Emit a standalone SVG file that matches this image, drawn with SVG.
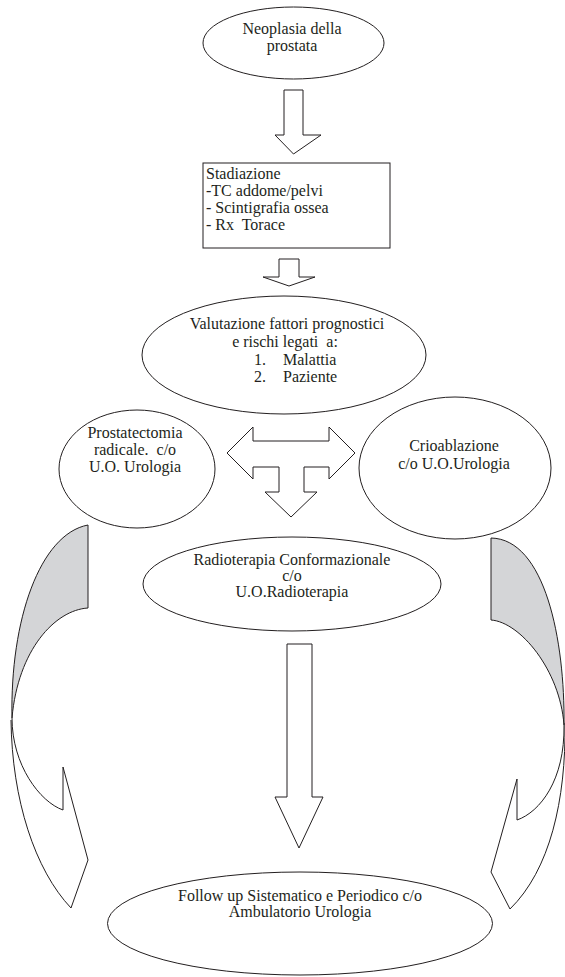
<svg xmlns="http://www.w3.org/2000/svg" width="565" height="977" viewBox="0 0 565 977">
<style>
.n{fill:#fff;stroke:#231f20;stroke-width:1}
.t{font-family:"Liberation Serif","Times New Roman",serif;font-size:16px;fill:#231f20}
.m{text-anchor:middle}
.a{fill:#fff;stroke:#231f20;stroke-width:1;stroke-linejoin:miter}
.g{fill:#d4d5d7;stroke:#231f20;stroke-width:1}
.l{fill:none;stroke:#231f20;stroke-width:1}
</style>
<rect width="565" height="977" fill="#fff"/>
<g id="connectors">
<polygon class="a" points="284,90 303,90 303,135 321,135 293.5,154 275,135 284,135"/>
<polygon class="a" points="279,259 299,259 299,277 315,277 289,286 263,277 279,277"/>
<polygon class="a" points="227,453 253,427 253,441 329,441 329,427 355,453 329,479 329,467 304,467 304,492 317,492 291,517 265,492 279,492 279,467 253,467 253,479"/>
<polygon class="a" points="287,644 312,644 312,797 323,797 299,848 275,797 287,797"/>
<g id="curve-left">
<path class="g" d="M88,525 L88,608 C55,610 18,650 12,718 C10,620 40,534 88,525 Z"/>
<path class="l" d="M12,718 C12,765 40,802 63,810 L63,767 L88,860 L71,908 C35,870 12,800 11,720"/>
</g>
<g id="curve-right">
<path class="g" d="M491,538 L491,620 C520,622 560,670 564,725 C565,640 545,539 491,538 Z"/>
<path class="l" d="M564,725 C565,780 540,812 517,820 L517,779 L491,872 L510,909 C550,870 566,800 565,723"/>
</g>
</g>
<g id="n1">
<ellipse class="n" cx="293.5" cy="43" rx="90.5" ry="36"/>
<text class="t m" x="292" y="34">Neoplasia della</text>
<text class="t m" x="292" y="51">prostata</text>
</g>
<g id="n2">
<rect class="n" x="203" y="163" width="187" height="85"/>
<text class="t" x="206" y="179">Stadiazione</text>
<text class="t" x="206" y="196">-TC addome/pelvi</text>
<text class="t" x="206" y="213">- Scintigrafia ossea</text>
<text class="t" x="206" y="230" xml:space="preserve">- Rx  Torace</text>
</g>
<g id="n3">
<ellipse class="n" cx="284" cy="355" rx="142" ry="59"/>
<text class="t m" x="287" y="329">Valutazione fattori prognostici</text>
<text class="t m" x="285" y="347" xml:space="preserve">e rischi legati  a:</text>
<text class="t" y="365"><tspan x="254">1.</tspan><tspan x="283">Malattia</tspan></text>
<text class="t" y="382"><tspan x="254">2.</tspan><tspan x="283">Paziente</tspan></text>
</g>
<g id="n4">
<ellipse class="n" cx="137" cy="469" rx="78" ry="59"/>
<text class="t m" x="135" y="438">Prostatectomia</text>
<text class="t m" x="135" y="455" xml:space="preserve">radicale.  c/o</text>
<text class="t m" x="135" y="472">U.O. Urologia</text>
</g>
<g id="n5">
<ellipse class="n" cx="455" cy="468" rx="96" ry="71"/>
<text class="t m" x="454" y="451">Crioablazione</text>
<text class="t m" x="454" y="469">c/o U.O.Urologia</text>
</g>
<g id="n6">
<ellipse class="n" cx="292" cy="584" rx="149" ry="47"/>
<text class="t m" x="292" y="565">Radioterapia Conformazionale</text>
<text class="t m" x="292" y="581">c/o</text>
<text class="t m" x="292" y="597">U.O.Radioterapia</text>
</g>
<g id="n7">
<ellipse class="n" cx="300" cy="923.5" rx="192.5" ry="51.5"/>
<text class="t m" x="300" y="901">Follow up Sistematico e Periodico c/o</text>
<text class="t m" x="300" y="917">Ambulatorio Urologia</text>
</g>
</svg>
